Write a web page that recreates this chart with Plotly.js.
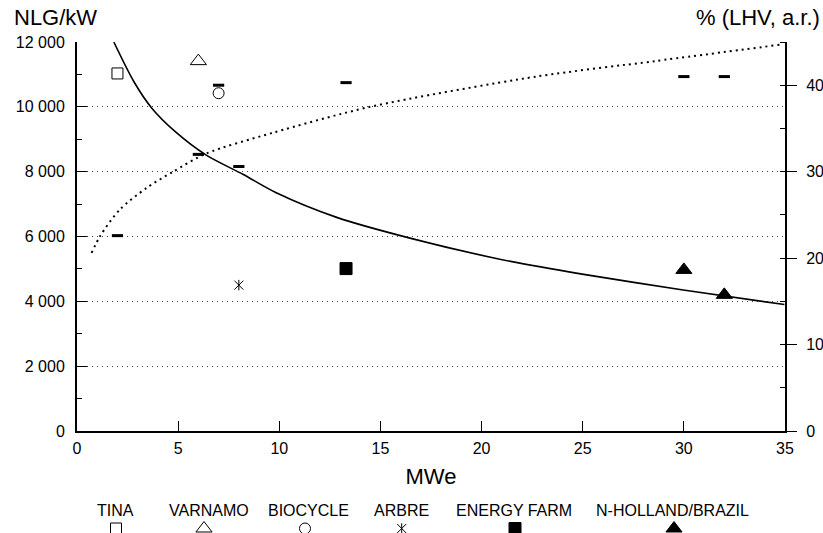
<!DOCTYPE html>
<html><head><meta charset="utf-8">
<script src="https://cdn.plot.ly/plotly-3.0.1.min.js"></script>
<style>html,body{margin:0;padding:0;background:#fff;}#chart{width:823px;height:533px;}</style>
</head><body><div id="chart"></div>
<script>
// ---------------- DATA ----------------
const plants = ['TINA', 'VARNAMO', 'BIOCYCLE', 'ARBRE', 'ENERGY FARM', 'N-HOLLAND/BRAZIL'];
const plantMWe  = [[2], [6], [7], [8], [13.3], [30, 32]];
const plantCost = [[11030], [11410], [10420], [4500], [5010], [4970, 4200]];   // NLG/kW
const plantEff  = [[22.6], [32.0], [40.0], [30.6], [40.3], [41.0, 41.0]];      // % (LHV, a.r.)

// fitted cost curve (NLG/kW)
const costCurveMWe = [1.82, 2.8, 3.71, 4.83, 6.39, 8.2, 9.85, 12.84, 16.46, 20.9, 24.97, 29.97, 34.97];
const costCurveVal = [12000, 10790, 9950, 9250, 8510, 7920, 7350, 6590, 5950, 5300, 4840, 4350, 3900];

// fitted efficiency curve (%)
const effCurveMWe = [0.72, 1.13, 2.11, 3.43, 4.75, 6.39, 9.68, 14.49, 22.7, 28.6, 34.8];
const effCurveVal = [20.6, 22.5, 25.6, 28.1, 30.0, 32.1, 34.5, 37.5, 41.0, 42.8, 44.7];

// tick labels
const mweTickVals  = [0, 5, 10, 15, 20, 25, 30, 35];
const costTickVals = [0, 2000, 4000, 6000, 8000, 10000, 12000];
const costTickText = ['0', '2 000', '4 000', '6 000', '8 000', '10 000', '12 000'];
const gridVals     = [2000, 4000, 6000, 8000, 10000];
const effTickVals  = [0, 10, 20, 30, 40];

// ---------------- STYLE / LAYOUT ----------------
const W = 823, H = 533;
const M = {l: 77, r: 38, t: 42, b: 0};
const PLOT_BOTTOM = 431;                         // pixel row of the x axis
const PW = W - M.l - M.r, PH = H - M.t - M.b;
const yDomLo = (H - PLOT_BOTTOM) / PH;
const px2x = p => (p - M.l) / PW;
const py2y = p => (H - p) / PH;
const FONT = 'Liberation Sans, Arial, Helvetica, sans-serif';

// overlay: optional second symbol drawn on top (to build a 6-armed star)
const markerStyles = [
  {symbol: 'square-open', size: 11},
  {symbol: 'triangle-up-open', size: 14},
  {symbol: 'circle-open', size: 11},
  {symbol: 'x-thin-open', size: 9, overlay: {symbol: 'line-ns-open', size: 7.5}},
  {symbol: 'square', size: 12},
  {symbol: 'triangle-up', size: 14}
];
const legendTextPx   = [115.5, 208.5, 308.7, 401.7, 513.8, 672];
const legendMarkerPx = [116, 204, 305, 401.7, 515, 674];
const legendTextPy = 510.5, legendMarkerPy = 528.5;

const traces = [];
// dummy trace so the grid axis is drawn
traces.push({x: [null], y: [null], xaxis: 'x', yaxis: 'y4', type: 'scatter', mode: 'markers', showlegend: false, hoverinfo: 'skip'});
// cost curve
traces.push({
  x: costCurveMWe, y: costCurveVal, type: 'scatter', mode: 'lines',
  line: {color: '#000', width: 1.6, shape: 'spline', smoothing: 0.8},
  xaxis: 'x', yaxis: 'y', hoverinfo: 'skip', showlegend: false
});
// efficiency curve
traces.push({
  x: effCurveMWe, y: effCurveVal, type: 'scatter', mode: 'lines',
  line: {color: '#000', width: 2, dash: '2px,4px', shape: 'spline', smoothing: 0.8},
  xaxis: 'x', yaxis: 'y2', hoverinfo: 'skip', showlegend: false
});

function mk(sym, size) {
  return {symbol: sym, size: size, color: '#000', line: {color: '#000', width: 1}};
}
// plant points
plants.forEach((name, i) => {
  const ms = markerStyles[i];
  const styles = ms.overlay ? [ms, ms.overlay] : [ms];
  styles.forEach(s => {
    traces.push({
      name: name, x: plantMWe[i], y: plantCost[i], type: 'scatter', mode: 'markers',
      marker: mk(s.symbol, s.size), xaxis: 'x', yaxis: 'y', showlegend: false
    });
    // legend key marker (pixel-positioned helper axes below the plot)
    traces.push({
      x: [legendMarkerPx[i]], y: [legendMarkerPy], type: 'scatter', mode: 'markers',
      marker: mk(s.symbol, s.size), xaxis: 'x3', yaxis: 'y3', cliponaxis: false, hoverinfo: 'skip', showlegend: false
    });
  });
  traces.push({
    name: name + ' efficiency', x: plantMWe[i], y: plantEff[i], type: 'scatter', mode: 'markers',
    marker: {symbol: 'line-ew-open', size: 8, color: '#000', line: {color: '#000', width: 3}},
    xaxis: 'x', yaxis: 'y2', showlegend: false
  });
});

const annotations = [
  {text: 'NLG/kW', xref: 'paper', yref: 'paper', x: px2x(12), y: py2y(18), xanchor: 'left', yanchor: 'middle',
   showarrow: false, font: {family: FONT, size: 22, color: '#000'}},
  {text: '% (LHV, a.r.)', xref: 'paper', yref: 'paper', x: px2x(822), y: py2y(18), xanchor: 'right', yanchor: 'middle',
   showarrow: false, font: {family: FONT, size: 22, color: '#000'}}
];
plants.forEach((name, i) => {
  annotations.push({text: name, xref: 'paper', yref: 'paper', x: px2x(legendTextPx[i]), y: py2y(legendTextPy),
    xanchor: 'center', yanchor: 'middle', showarrow: false, font: {family: FONT, size: 16, color: '#000'}});
});

const layout = {
  width: W, height: H, margin: M, paper_bgcolor: '#fff', plot_bgcolor: 'rgba(0,0,0,0)',
  font: {family: FONT, size: 16, color: '#000'}, showlegend: false,
  xaxis: {
    anchor: 'y', range: [0, 35], tickmode: 'array', tickvals: mweTickVals, ticks: 'inside', ticklen: 10, tickwidth: 1, tickcolor: '#000',
    showline: true, linewidth: 2, linecolor: '#000', showgrid: false, zeroline: false,
    tickfont: {size: 16}, ticklabelstandoff: 2,
    title: {text: 'MWe', font: {size: 22}, standoff: 12}
  },
  yaxis: {
    domain: [yDomLo, 1], range: [0, 12000], tickmode: 'array', tickvals: costTickVals, ticktext: costTickText,
    ticks: 'inside', ticklen: 10, tickwidth: 1, tickcolor: '#000',
    minor: {ticks: 'inside', ticklen: 5, tickwidth: 1, tickcolor: '#000', tick0: 0, dtick: 1000, showgrid: false},
    showline: true, linewidth: 2, linecolor: '#000', showgrid: false, zeroline: false,
    tickfont: {size: 16}, ticklabelstandoff: 7
  },
  yaxis4: {
    overlaying: 'y', range: [0, 12000], tickmode: 'array', tickvals: gridVals, showticklabels: false, ticks: '',
    showgrid: true, gridcolor: '#444', gridwidth: 1, griddash: '1px,4px', zeroline: false, showline: false
  },
  yaxis2: {
    overlaying: 'y', side: 'right', range: [0, 45], tickmode: 'array', tickvals: effTickVals,
    ticks: 'outside', ticklen: 10, tickwidth: 1, tickcolor: '#000',
    minor: {ticks: 'inside', ticklen: 5, tickwidth: 1, tickcolor: '#000', tick0: 0, dtick: 5, showgrid: false},
    showline: true, linewidth: 2, linecolor: '#000', showgrid: false, zeroline: false,
    tickfont: {size: 16}, ticklabelstandoff: 6
  },
  xaxis3: {anchor: 'y3', domain: [0, 1], range: [M.l, W - M.r], visible: false, fixedrange: true},
  yaxis3: {anchor: 'x3', domain: [0, yDomLo], range: [H, PLOT_BOTTOM], visible: false, fixedrange: true},
  annotations: annotations
};

Plotly.newPlot('chart', traces, layout, {displayModeBar: false, staticPlot: true});
</script></body></html>
